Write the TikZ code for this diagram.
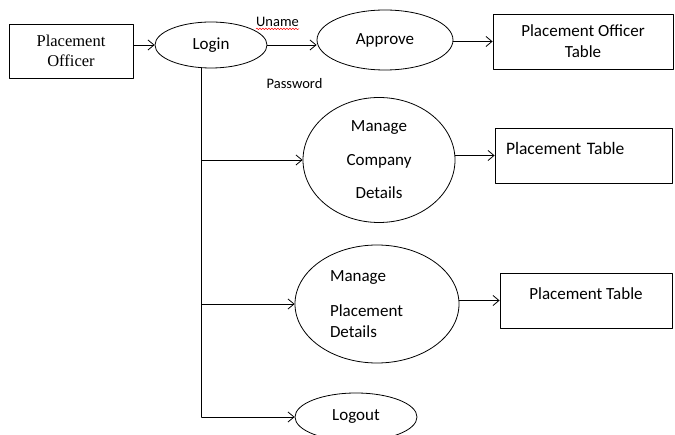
\documentclass[tikz,border=0pt]{standalone}
\usepackage{fontspec}
\setmainfont{Carlito}
\newfontfamily\timesfont{Liberation Serif}
\usetikzlibrary{arrows.meta}
\usetikzlibrary{shapes.geometric}
\usetikzlibrary{decorations.pathmorphing}

\begin{document}
\begin{tikzpicture}[x=1pt,y=-1pt,line cap=round,line join=round,
  proc/.style={draw=black, line width=0.8pt, ellipse, inner sep=0pt, font=\fontsize{17}{19}\selectfont},
  tbl/.style={draw=black, line width=0.8pt, rectangle, inner sep=0pt, font=\fontsize{17}{21}\selectfont},
  flow/.style={draw=black, line width=0.8pt, -{Straight Barb[length=6pt, width=10pt]}},
  lbl/.style={inner sep=0pt, font=\fontsize{14.5}{17}\selectfont}]
\useasboundingbox (0,0) rectangle (675,435);

% external entity and login
\node[tbl, minimum width=124, minimum height=54, align=center, font=\timesfont\fontsize{16.5}{19.5}\selectfont] (officer) at (71,51) {Placement\\Officer};
\node[proc, minimum width=112, minimum height=46] (login) at (211,45) {Login};
\node[proc, minimum width=136, minimum height=60] (approve) at (385,40) {Approve};
\node[tbl, minimum width=180, minimum height=55, align=center] (officertable) at (583,41.5) {Placement Officer\\Table};
\node[lbl] (uname) at (277.5,22) {Uname};
\node[lbl] (password) at (294.5,84) {Password};
\draw[red, line width=0.5pt, decorate, decoration={snake, amplitude=0.8pt, segment length=3pt}] ([yshift=-2pt]uname.south west) -- ([yshift=-2pt]uname.south east);

% processes
\node[proc, minimum width=152, minimum height=125, align=center, font=\fontsize{17}{33.5}\selectfont] (company) at (379,160) {Manage\\Company\\Details};
\node[tbl, minimum width=177, minimum height=55, inner xsep=11pt, text width=155pt, align=left, text depth=14pt, font=\fontsize{17.5}{21}\selectfont] (companytable) at (583.5,155.5) {Placement Table};
\node[proc, minimum width=164, minimum height=118, text width=94pt, align=left, font=\fontsize{17}{21}\selectfont] (placement) at (377,304) {Manage\\[14pt]Placement\\Details};
\node[tbl, minimum width=172, minimum height=55, text depth=14pt] (placementtable) at (586,300.5) {Placement Table};
\node[proc, minimum width=122, minimum height=48] (logout) at (356,417) {Logout};

% spine from login
\coordinate (spinetop) at (login.-112);
\coordinate (bcompany) at (spinetop |- company.west);
\coordinate (bplacement) at (spinetop |- placement.west);
\coordinate (blogout) at (spinetop |- logout.west);
\draw[line width=0.8pt] (spinetop) -- (blogout);

% flows
\draw[flow] (officer.east |- login.west) -- (login.west);
\draw[flow] (login.east) -- (approve.west |- login.east);
\draw[flow] (approve.east |- officertable.west) -- (officertable.west);
\draw[flow] (bcompany) -- (company.west);
\draw[flow] (company.east |- companytable.west) -- (companytable.west);
\draw[flow] (bplacement) -- (placement.west);
\draw[flow] (placement.east |- placementtable.west) -- (placementtable.west);
\draw[flow] (blogout) -- (logout.west);
\end{tikzpicture}
\end{document}
